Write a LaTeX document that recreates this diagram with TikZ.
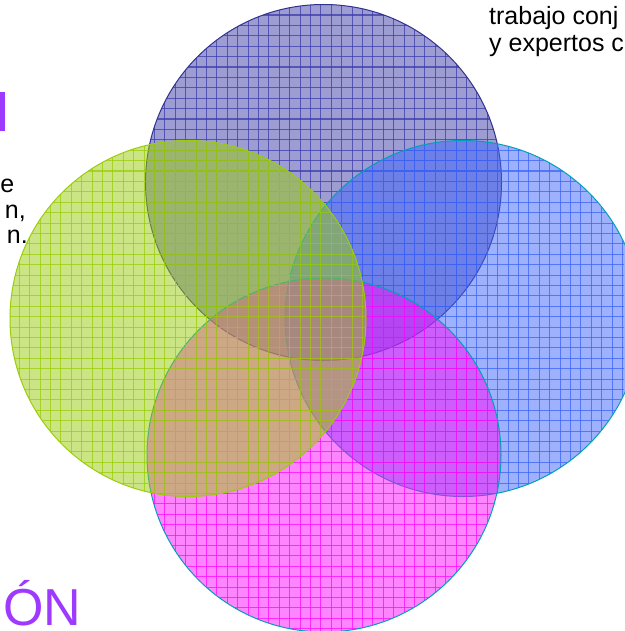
\documentclass[tikz,border=0pt]{standalone}
\usepackage{fontspec}
\setmainfont{Liberation Sans}
\definecolor{cTop}{RGB}{60,60,170}
\definecolor{cTopS}{RGB}{50,50,140}
\definecolor{cLeft}{RGB}{155,205,10}
\definecolor{cRight}{RGB}{60,100,250}
\definecolor{cBot}{RGB}{255,10,255}
\definecolor{cTeal}{RGB}{0,160,185}
\definecolor{cPurp}{RGB}{158,58,255}
\tikzset{
  txt/.style={inner sep=0pt, font=\fontsize{25}{28}\selectfont, text=black},
  bigtxt/.style={inner sep=0pt, font=\fontsize{52}{56}\selectfont, text=cPurp},
}
\newcommand{\gridcircle}[5]{% x y r color stroke
  \begin{scope}
    \clip (#1,#2) circle[radius=#3];
    \fill[#4, opacity=0.5] (#1,#2) circle[radius=#3];
    \begin{scope}[#4, opacity=0.75, line width=1.1pt]
      \foreach \i in {0,...,61} {
        \draw (8.9+10.4*\i,0) -- (8.9+10.4*\i,631);
        \draw (0,4.65+10.4*\i) -- (624,4.65+10.4*\i);
      }
    \end{scope}
  \end{scope}
  \draw[#5, line width=1pt] (#1,#2) circle[radius=#3];
}
\begin{document}
\begin{tikzpicture}[x=1pt,y=-1pt]
\useasboundingbox (0,0) rectangle (624,631);
\fill[white] (0,0) rectangle (624,631);
% circles
\gridcircle{323.5}{182.5}{178}{cTop}{cTopS}
\gridcircle{463}{318.5}{178}{cRight}{cTeal}
\gridcircle{324}{455}{177}{cBot}{cTeal}
\gridcircle{188}{318.5}{178}{cLeft}{cLeft}
% texts
\node[txt, anchor=base west] (t1) at (489,25) {trabajo conj};
\node[txt, anchor=base west] (t2) at (489,52) {y expertos c};
\node[txt, anchor=base east] (l1) at (14.5,193) {e};
\node[txt, anchor=base east] (l2) at (26,218) {n,};
\node[txt, anchor=base east] (l3) at (28,243) {n.};
\fill[cPurp] (0,92) rectangle (4.5,131);
\node[bigtxt, anchor=base west] (on) at (3,625) {ÓN};
\end{tikzpicture}
\end{document}
